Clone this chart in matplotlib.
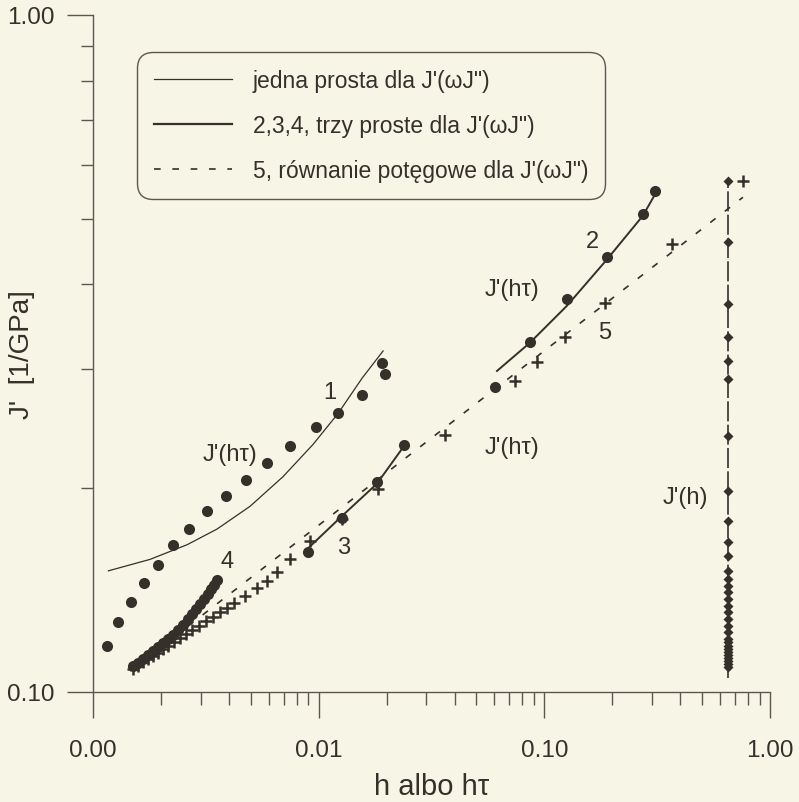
import matplotlib.pyplot as plt
from matplotlib.lines import Line2D
from matplotlib.ticker import FixedLocator, LogLocator, NullFormatter
import numpy as np

plt.rcParams['font.family'] = ['Liberation Sans', 'DejaVu Sans']

paper = '#f7f5e5'
ink = '#36302b'
axis_col = '#5e5650'

# J'(h tau), first set of circles and its single-line fit
h_tau_1 = [0.00115, 0.00129, 0.00147, 0.00168, 0.00194, 0.00226, 0.00266, 0.00320, 0.00388,
           0.00476, 0.00590, 0.00746, 0.00973, 0.0122, 0.0156, 0.0197, 0.0191]
J_1 = [0.117, 0.127, 0.136, 0.145, 0.154, 0.165, 0.174, 0.185, 0.195,
       0.206, 0.218, 0.231, 0.246, 0.258, 0.275, 0.295, 0.306]
fit1_x = [0.00117, 0.00179, 0.00261, 0.00354, 0.00496, 0.00695, 0.00943, 0.0122, 0.0156, 0.0193]
fit1_y = [0.151, 0.157, 0.165, 0.174, 0.188, 0.208, 0.232, 0.258, 0.291, 0.319]

# dense circles near "4"
h_tau_4 = [0.001504, 0.001583, 0.001666, 0.001753, 0.001844, 0.001941, 0.002042, 0.002149,
           0.002262, 0.002380, 0.002505, 0.002636, 0.002746, 0.002861, 0.002980, 0.003104,
           0.003232, 0.003333, 0.003436, 0.003543]
J_4 = [0.1093, 0.1104, 0.1119, 0.1134, 0.1150, 0.1165, 0.1181, 0.1198, 0.1214, 0.1235,
       0.1256, 0.1282, 0.1304, 0.1326, 0.1349, 0.1372, 0.1395, 0.1419, 0.1439, 0.1464]
fit4_x = [0.001504, 0.001788, 0.002021, 0.002309, 0.002479, 0.002690, 0.002919, 0.003135,
          0.003299, 0.003472, 0.003579]
fit4_y = [0.1089, 0.1138, 0.1177, 0.1218, 0.1252, 0.1291, 0.1340, 0.1377, 0.1410, 0.1449, 0.1474]

# circles along "3" and "2"
h_tau_23 = [0.00897, 0.0127, 0.0181, 0.0239, 0.0604, 0.0863, 0.126, 0.189, 0.273, 0.309]
J_23 = [0.161, 0.181, 0.204, 0.232, 0.282, 0.329, 0.381, 0.439, 0.508, 0.550]
fit3_x = [0.00897, 0.0127, 0.0181, 0.0246]
fit3_y = [0.163, 0.182, 0.203, 0.234]
fit2_x = [0.0617, 0.0863, 0.126, 0.189, 0.273, 0.316]
fit2_y = [0.298, 0.328, 0.372, 0.435, 0.505, 0.550]

# crosses and the power law "5"
h_tau_5 = [0.001504, 0.001583, 0.001666, 0.001753, 0.001844, 0.001941, 0.002042, 0.002149,
           0.002285, 0.002429, 0.002583, 0.002746, 0.002949, 0.003168, 0.003402, 0.003654,
           0.003924, 0.004215, 0.004715, 0.00533, 0.00590, 0.00654, 0.00746, 0.00915,
           0.0127, 0.0183, 0.0363, 0.0741, 0.0927, 0.123, 0.186, 0.368, 0.759]
J_5 = [0.1081, 0.1094, 0.1106, 0.1118, 0.1130, 0.1143, 0.1156, 0.1169, 0.1184, 0.1200,
       0.1216, 0.1233, 0.1252, 0.1271, 0.1291, 0.1311, 0.1332, 0.1353, 0.1386, 0.1424,
       0.1459, 0.1504, 0.1572, 0.1671, 0.1801, 0.1994, 0.2397, 0.2880, 0.3072, 0.3345,
       0.3755, 0.4589, 0.5685]
pow_x = [0.00146, 0.759]
pow_y = [0.1074, 0.538]

# J'(h) at a single h
h_const = 0.65
J_h = [0.5685, 0.462, 0.374, 0.3345, 0.308, 0.290, 0.239, 0.198, 0.179, 0.1666, 0.1588,
       0.151, 0.1469, 0.1434, 0.1405, 0.1372, 0.1340, 0.1313, 0.1282, 0.1252, 0.1226,
       0.1198, 0.1185, 0.1169, 0.1157, 0.1146, 0.1134, 0.1123, 0.1111, 0.1100, 0.1089]
J_h_line = [0.105, 0.5685]

x_ticks = [0.001, 0.01, 0.1, 1.0]
x_tick_labels = ['0.00', '0.01', '0.10', '1.00']
y_ticks = [0.1, 1.0]
y_tick_labels = ['0.10', '1.00']

labels = [("1", 0.0112, 0.277), ("J'(hτ)", 0.00405, 0.2247), ("4", 0.00392, 0.156),
          ("3", 0.0129, 0.1637), ("2", 0.164, 0.4636), ("J'(hτ)", 0.0719, 0.3937),
          ("5", 0.1855, 0.3402), ("J'(hτ)", 0.0719, 0.2301), ("J'(h)", 0.42, 0.1941)]

fig = plt.figure(figsize=(7.99, 8.03), dpi=100, facecolor=paper)
ax = fig.add_axes([93 / 799, 1 - 693 / 803, 677 / 799, 677 / 803], facecolor=paper)

ax.plot(fit1_x, fit1_y, color=ink, lw=0.9, zorder=2)
ax.plot(fit4_x, fit4_y, color=ink, lw=1.4, zorder=2)
ax.plot(fit3_x, fit3_y, color=ink, lw=1.4, zorder=2)
ax.plot(fit2_x, fit2_y, color=ink, lw=1.4, zorder=2)
ax.plot(pow_x, pow_y, color=ink, lw=1.2, ls=(0, (4, 7)), zorder=2)
ax.plot([h_const, h_const], J_h_line, color=ink, lw=1.2, ls=(0, (12, 2)), zorder=2)

ax.plot(h_tau_1, J_1, 'o', color=ink, ms=8, mec='none', zorder=3)
ax.plot(h_tau_4, J_4, 'o', color=ink, ms=8, mec='none', zorder=3)
ax.plot(h_tau_23, J_23, 'o', color=ink, ms=8, mec='none', zorder=3)
ax.plot(h_tau_5, J_5, '+', color=ink, ms=9, mew=1.8, zorder=3)
ax.plot(np.full(len(J_h), h_const), J_h, 'D', color=ink, ms=5, mec='none', zorder=3)

for text, x, y in labels:
    ax.text(x, y, text, fontsize=17, color=ink, ha='center', va='center')

ax.set_xscale('log')
ax.set_yscale('log')
ax.set_xlim(0.001, 1.0)
ax.set_ylim(0.1, 1.0)
ax.xaxis.set_major_locator(FixedLocator(x_ticks))
ax.set_xticklabels(x_tick_labels)
ax.yaxis.set_major_locator(FixedLocator(y_ticks))
ax.set_yticklabels(y_tick_labels)
ax.xaxis.set_minor_locator(LogLocator(base=10, subs=np.arange(2, 10)))
ax.yaxis.set_minor_locator(LogLocator(base=10, subs=np.arange(2, 10)))
ax.xaxis.set_minor_formatter(NullFormatter())
ax.yaxis.set_minor_formatter(NullFormatter())

for side in ['top', 'right']:
    ax.spines[side].set_visible(False)
for side in ['left', 'bottom']:
    ax.spines[side].set_color(axis_col)
    ax.spines[side].set_linewidth(1.0)

ax.tick_params(which='major', direction='out', length=18.5, width=1.0, color=axis_col,
               labelsize=17.5, labelcolor=ink)
ax.tick_params(axis='x', which='major', pad=15)
ax.tick_params(axis='y', which='major', pad=9)
ax.tick_params(which='minor', direction='out', length=9, width=1.0, color=axis_col)

ax.set_xlabel('h albo hτ', fontsize=21, color=ink)
ax.set_ylabel("J'  [1/GPa]", fontsize=20, color=ink)
ax.xaxis.set_label_coords(0.5, -0.118)
ax.yaxis.set_label_coords(-0.086, 0.5)

handles = [Line2D([], [], color=ink, lw=0.9),
           Line2D([], [], color=ink, lw=1.6),
           Line2D([], [], color=ink, lw=1.2, ls=(0, (4, 7)))]
names = ["jedna prosta dla J'(ωJ\")",
         "2,3,4, trzy proste dla J'(ωJ\")",
         "5, równanie potęgowe dla J'(ωJ\")"]
leg = ax.legend(handles, names, loc='upper left', bbox_to_anchor=(0.065, 0.945),
                fontsize=16.5, frameon=True, fancybox=True, handlelength=3.4,
                handletextpad=0.9, labelspacing=0.95, borderpad=0.75, borderaxespad=0)
frame = leg.get_frame()
frame.set_facecolor(paper)
frame.set_edgecolor(axis_col)
frame.set_linewidth(1.0)
frame.set_alpha(1)
frame.set_boxstyle('round', pad=0, rounding_size=0.7)
for t in leg.get_texts():
    t.set_color(ink)

fig.savefig('out.png', dpi=100, facecolor=paper)
